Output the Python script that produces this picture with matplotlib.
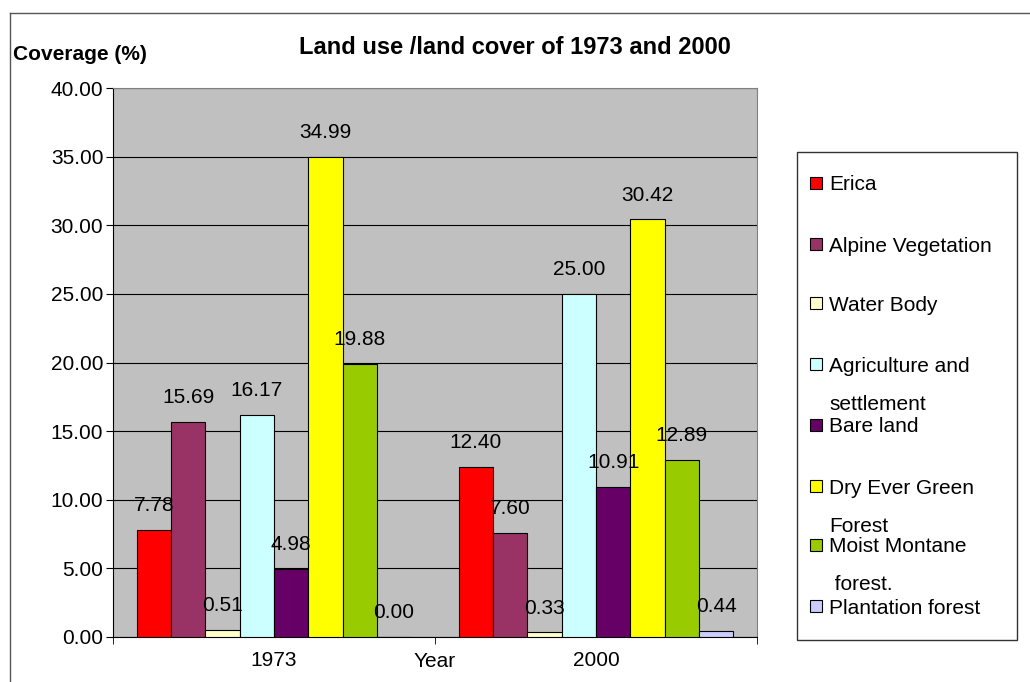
import matplotlib
matplotlib.use('Agg')
import numpy as np
from matplotlib import pyplot as plt
from matplotlib.patches import Rectangle
from matplotlib.lines import Line2D

years = ['1973', '2000']
classes = ['Erica', 'Alpine Vegetation', 'Water Body', 'Agriculture and\nsettlement',
           'Bare land', 'Dry Ever Green\nForest', 'Moist Montane\n forest.', 'Plantation forest']
erica = [7.78, 12.40]
alpine = [15.69, 7.60]
water = [0.51, 0.33]
agriculture = [16.17, 25.00]
bare = [4.98, 10.91]
dry_forest = [34.99, 30.42]
moist_forest = [19.88, 12.89]
plantation = [0.00, 0.44]
series = [erica, alpine, water, agriculture, bare, dry_forest, moist_forest, plantation]
colors = ['#FF0000', '#993366', '#FFFFCC', '#CCFFFF', '#660066', '#FFFF00', '#99CC00', '#CCCCFF']

W, H = 1030, 682
plt.rcParams['font.family'] = ['Liberation Sans', 'DejaVu Sans']
fig = plt.figure(figsize=(W / 100, H / 100), dpi=100)


def fx(x):
    return x / W


def fy(y):
    return 1 - y / H


ax = fig.add_axes([fx(113), fy(637), (757 - 113) / W, (637 - 88) / H])
ax.set_facecolor('#C0C0C0')

x = np.arange(len(years))
width = 0.852 / len(series)
bars = []
for i, vals in enumerate(series):
    b = ax.bar(x + (i - 3.5) * width, vals, width, color=colors[i],
               edgecolor='black', linewidth=0.8, zorder=3)
    bars.append(b)
    for rect, v in zip(b, vals):
        ax.annotate('{:.2f}'.format(v), (rect.get_x() + rect.get_width() / 2, v),
                    xytext=(0, 17.5), textcoords='offset points',
                    ha='center', va='center', fontsize=15, zorder=4)

ax.set_ylim(0, 40)
ax.set_xlim(-0.5, 1.5)
ax.set_yticks(np.arange(0, 41, 5))
ax.set_yticklabels(['{:.2f}'.format(v) for v in np.arange(0, 41, 5)])
ax.yaxis.grid(True, color='black', linewidth=0.8, zorder=0)
ax.set_axisbelow(True)
ax.tick_params(axis='y', labelsize=15, length=5, pad=2, direction='out')

ax.set_xticks(x)
ax.set_xticklabels(years)
ax.set_xticks([-0.5, 0.5, 1.5], minor=True)
ax.tick_params(axis='x', which='major', length=0, pad=10, labelsize=15)
ax.tick_params(axis='x', which='minor', length=5, direction='out')
ax.set_xlabel('Year', fontsize=15)
ax.xaxis.set_label_coords(0.5, -0.0455)
ax.xaxis.label.set_verticalalignment('center')

for s in ['top', 'right']:
    ax.spines[s].set_color('#808080')
for s in ['left', 'bottom']:
    ax.spines[s].set_color('black')

fig.text(fx(515), fy(47), 'Land use /land cover of 1973 and 2000', ha='center', va='center',
         fontsize=17, fontweight='bold')
fig.text(fx(13), fy(55), 'Coverage (%)', ha='left', va='center', fontsize=15, fontweight='bold')

# outer chart frame (only top and left edges visible)
fig.add_artist(Line2D([fx(10), 1], [fy(13), fy(13)], color='#555555', linewidth=1))
fig.add_artist(Line2D([fx(10), fx(10)], [0, fy(13)], color='#555555', linewidth=1))

# legend box drawn by hand: entries are evenly spaced even with two-line labels
fig.add_artist(Rectangle((fx(797), fy(640)), (1017 - 797) / W, (640 - 152) / H,
                         facecolor='white', edgecolor='#333333', linewidth=1))
entry_y = [183, 244, 303, 364, 425, 486, 545, 606]
for b, label, yy in zip(bars, classes, entry_y):
    fig.add_artist(Rectangle((fx(810), fy(yy + 6)), 12 / W, 12 / H,
                             facecolor=b.patches[0].get_facecolor(), edgecolor='black',
                             linewidth=0.8))
    for k, line in enumerate(label.split('\n')):
        fig.text(fx(829), fy(yy + 38 * k), line, ha='left', va='center_baseline',
                 fontsize=15)

fig.savefig('out.png', dpi=100)
